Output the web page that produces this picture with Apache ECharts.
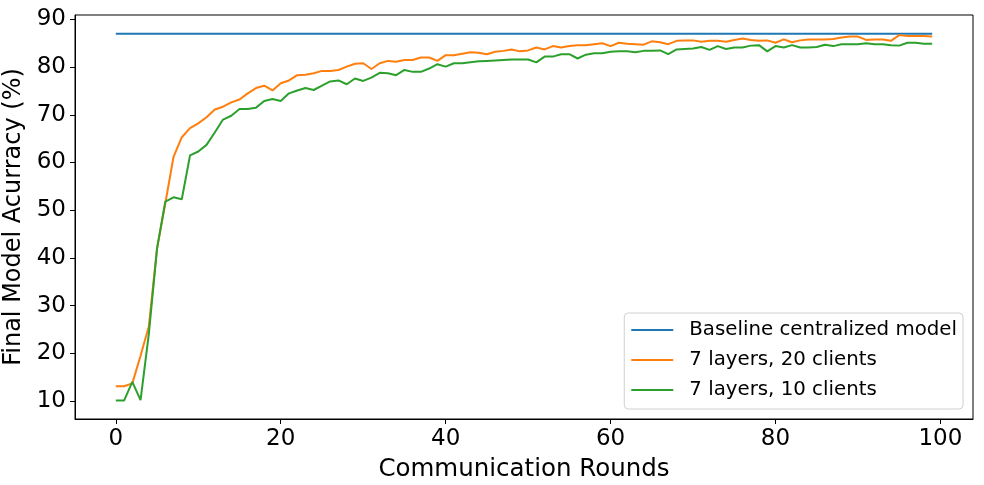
<!DOCTYPE html>
<html>
<head>
<meta charset="utf-8">
<script src="https://cdn.jsdelivr.net/npm/echarts@6/dist/echarts.min.js"></script>
<style>
html,body{margin:0;padding:0;background:#fff;}
#c{width:984px;height:485px;}
</style>
</head>
<body>
<div id="c"></div>
<script>
var seriesNames = ['Baseline centralized model', '7 layers, 20 clients', '7 layers, 10 clients'];
var baselineX = [0, 99];
var baselineY = [87.0, 87.0];
var clients20 = [13.1,13.1,13.7,19.5,25.6,42.0,51.4,61.2,65.3,67.2,
68.2,69.5,71.1,71.7,72.6,73.2,74.5,75.6,76.1,75.1,
76.6,77.2,78.3,78.4,78.7,79.2,79.2,79.4,80.1,80.7,
80.8,79.6,80.8,81.3,81.1,81.5,81.5,82.0,82.0,81.3,
82.5,82.5,82.8,83.1,83.0,82.7,83.2,83.4,83.7,83.3,
83.5,84.1,83.7,84.4,84.1,84.4,84.6,84.6,84.8,85.0,
84.4,85.1,84.9,84.8,84.7,85.4,85.2,84.8,85.5,85.6,
85.6,85.3,85.5,85.5,85.3,85.7,86.0,85.7,85.5,85.6,
85.1,85.8,85.2,85.6,85.8,85.8,85.8,85.9,86.2,86.4,
86.4,85.7,85.8,85.8,85.5,86.7,86.5,86.5,86.5,86.4];
var clients10 = [10.1,10.1,14.0,10.2,24.0,42.0,51.8,52.7,52.3,61.5,
62.3,63.7,66.3,69.0,69.8,71.2,71.2,71.5,72.9,73.3,
72.9,74.5,75.1,75.6,75.2,76.1,77.0,77.2,76.4,77.6,
77.1,77.8,78.8,78.7,78.3,79.4,79.0,79.0,79.7,80.6,
80.1,80.8,80.8,81.0,81.2,81.3,81.4,81.5,81.6,81.6,
81.6,81.0,82.2,82.2,82.7,82.7,81.8,82.6,82.9,82.9,
83.2,83.3,83.3,83.1,83.4,83.4,83.5,82.7,83.7,83.8,
83.9,84.2,83.6,84.4,83.8,84.1,84.1,84.5,84.6,83.3,
84.4,84.1,84.6,84.1,84.1,84.2,84.7,84.4,84.8,84.8,
84.8,85.0,84.8,84.8,84.6,84.5,85.1,85.1,84.9,84.9];
var xTicks = [0, 20, 40, 60, 80, 100];
var yTicks = [10, 20, 30, 40, 50, 60, 70, 80, 90];

function pairs(ys, xs) {
  return ys.map(function (v, i) { return [xs ? xs[i] : i, v]; });
}

var font = 'DejaVu Sans';
var chart = echarts.init(document.getElementById('c'), null, {renderer: 'canvas'});
chart.setOption({
  animation: false,
  backgroundColor: '#ffffff',
  textStyle: {fontFamily: font},
  grid: {left: 75, right: 11, top: 15, bottom: 66, containLabel: false, outerBoundsMode: 'none',
         show: true, borderColor: '#000', borderWidth: 1, backgroundColor: 'transparent'},
  xAxis: {
    type: 'value', min: -4.95, max: 103.95,
    name: 'Communication Rounds', nameLocation: 'middle', nameGap: 38,
    nameTextStyle: {fontSize: 24.5, color: '#000', fontFamily: font},
    axisLine: {show: true, onZero: false, lineStyle: {color: '#000', width: 1}},
    axisTick: {show: true, length: 5, lineStyle: {color: '#000'}, customValues: xTicks},
    axisLabel: {fontSize: 23, color: '#000', margin: 9, fontFamily: font, customValues: xTicks},
    splitLine: {show: false}
  },
  yAxis: {
    type: 'value', min: 6.23, max: 90.92,
    name: 'Final Model Acurracy (%)', nameLocation: 'middle', nameGap: 49,
    nameTextStyle: {fontSize: 24, color: '#000', fontFamily: font},
    axisLine: {show: true, onZero: false, lineStyle: {color: '#000', width: 1}},
    axisTick: {show: true, length: 5, lineStyle: {color: '#000'}, customValues: yTicks},
    axisLabel: {fontSize: 23, color: '#000', margin: 9, fontFamily: font, customValues: yTicks},
    splitLine: {show: false}
  },
  legend: {
    orient: 'vertical', right: 21, bottom: 76,
    data: seriesNames,
    icon: 'rect', itemWidth: 42, itemHeight: 2, itemGap: 6,
    padding: [5, 6, 7, 7],
    borderColor: '#d0d0d0', borderWidth: 1, borderRadius: 4, backgroundColor: 'rgba(255,255,255,0.8)',
    textStyle: {fontSize: 19.8, color: '#000', fontFamily: font, lineHeight: 24, padding: [0, 0, 0, 11]}
  },
  series: [
    {name: seriesNames[0], type: 'line', data: pairs(baselineY, baselineX), showSymbol: false, color: '#1f77b4', lineStyle: {width: 2, color: '#1f77b4'}},
    {name: seriesNames[1], type: 'line', data: pairs(clients20), showSymbol: false, color: '#ff7f0e', lineStyle: {width: 2, color: '#ff7f0e'}},
    {name: seriesNames[2], type: 'line', data: pairs(clients10), showSymbol: false, color: '#2ca02c', lineStyle: {width: 2, color: '#2ca02c'}}
  ]
});
</script>
</body>
</html>
